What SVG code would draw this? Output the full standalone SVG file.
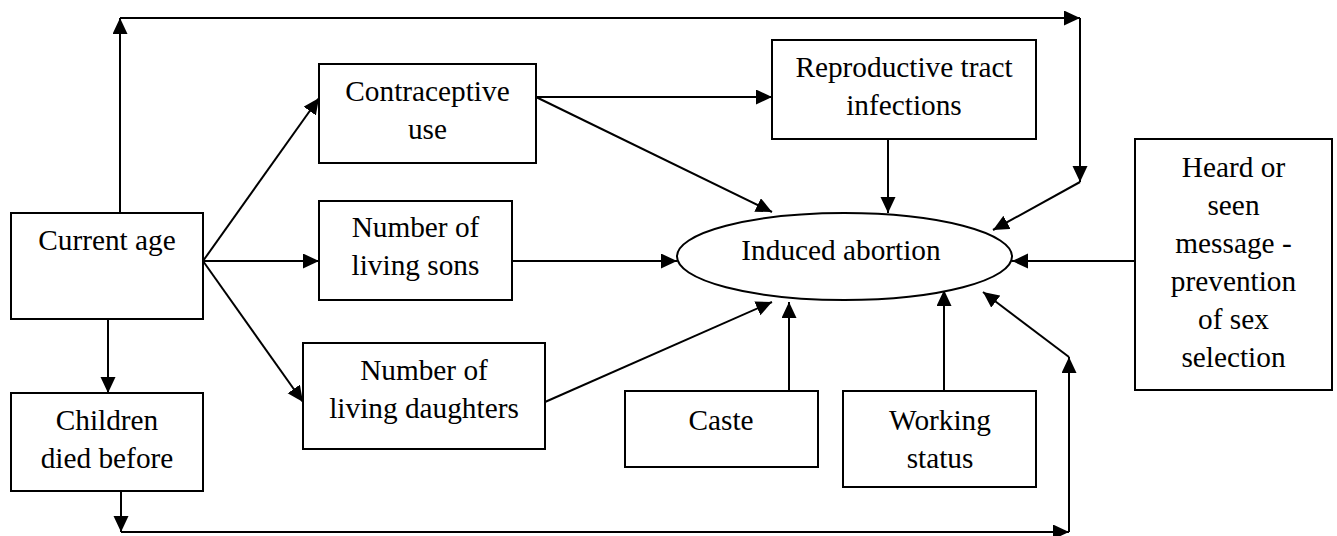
<svg xmlns="http://www.w3.org/2000/svg" width="1337" height="536" viewBox="0 0 1337 536">
<style>
.box{fill:#fff;stroke:#000;stroke-width:2}
.t{font-size:29.3px;text-anchor:middle;fill:#000}
.c line{stroke:#000;stroke-width:2;fill:none}
.a{marker-end:url(#ah)}
</style>
<defs>
<marker id="ah" markerUnits="userSpaceOnUse" markerWidth="17" markerHeight="16" refX="16" refY="7.5" orient="auto">
<path d="M0,0 L16,7.5 L0,15 z" fill="#000"/>
</marker>
</defs>
<rect width="1337" height="536" fill="#fff"/>
<g class="c" id="connectors">
<line class="a" x1="120" y1="213" x2="120" y2="18"/>
<line class="a" x1="120" y1="18" x2="1080" y2="18"/>
<line class="a" x1="1080" y1="18" x2="1080" y2="182"/>
<line class="a" x1="1080" y1="182" x2="993" y2="230"/>
<line class="a" x1="203" y1="261" x2="319" y2="98"/>
<line class="a" x1="203" y1="261" x2="319" y2="261"/>
<line class="a" x1="203" y1="261" x2="303" y2="402"/>
<line class="a" x1="108" y1="319" x2="108" y2="393"/>
<line class="a" x1="121" y1="491" x2="121" y2="532"/>
<line class="a" x1="121" y1="532" x2="1069" y2="532"/>
<line class="a" x1="1069" y1="532" x2="1069" y2="357"/>
<line class="a" x1="1069" y1="357" x2="983" y2="292"/>
<line class="a" x1="536" y1="97" x2="772" y2="97"/>
<line class="a" x1="536" y1="97" x2="772" y2="212"/>
<line class="a" x1="888" y1="139" x2="888" y2="213"/>
<line class="a" x1="512" y1="261" x2="677" y2="261"/>
<line class="a" x1="545" y1="402" x2="772" y2="302"/>
<line class="a" x1="789" y1="391" x2="789" y2="302"/>
<line class="a" x1="944" y1="391" x2="944" y2="290"/>
<line class="a" x1="1135" y1="261" x2="1012" y2="261"/>
</g>
<g font-family="'Liberation Serif', 'Times New Roman', Times, serif">
<g id="current-age">
<rect class="box" x="11" y="213" width="192" height="106"/>
<text class="t" x="107" y="250">Current age</text>
</g>
<g id="children-died">
<rect class="box" x="11" y="393" width="192" height="98"/>
<text class="t" x="107" y="430">Children</text>
<text class="t" x="107" y="468">died before</text>
</g>
<g id="contraceptive">
<rect class="box" x="319" y="64" width="217" height="99"/>
<text class="t" x="427.5" y="101">Contraceptive</text>
<text class="t" x="427.5" y="139">use</text>
</g>
<g id="sons">
<rect class="box" x="319" y="201" width="193" height="99"/>
<text class="t" x="415.5" y="237">Number of</text>
<text class="t" x="415.5" y="275">living sons</text>
</g>
<g id="daughters">
<rect class="box" x="303" y="343" width="242" height="106"/>
<text class="t" x="424" y="380">Number of</text>
<text class="t" x="424" y="418">living daughters</text>
</g>
<g id="rti">
<rect class="box" x="772" y="40" width="264" height="99"/>
<text class="t" x="904" y="77">Reproductive tract</text>
<text class="t" x="904" y="115">infections</text>
</g>
<g id="induced-abortion">
<ellipse class="box" cx="844.5" cy="256.5" rx="167.5" ry="43.5"/>
<text class="t" x="841" y="260">Induced abortion</text>
</g>
<g id="caste">
<rect class="box" x="625" y="391" width="193" height="76"/>
<text class="t" x="721" y="430">Caste</text>
</g>
<g id="working-status">
<rect class="box" x="843" y="391" width="193" height="96"/>
<text class="t" x="940" y="430">Working</text>
<text class="t" x="940" y="468">status</text>
</g>
<g id="heard-message">
<rect class="box" x="1135" y="139" width="197" height="251"/>
<text class="t" x="1233.5" y="177">Heard or</text>
<text class="t" x="1233.5" y="215">seen</text>
<text class="t" x="1233.5" y="253">message -</text>
<text class="t" x="1233.5" y="291">prevention</text>
<text class="t" x="1233.5" y="329">of sex</text>
<text class="t" x="1233.5" y="367">selection</text>
</g>
</g>
</svg>
